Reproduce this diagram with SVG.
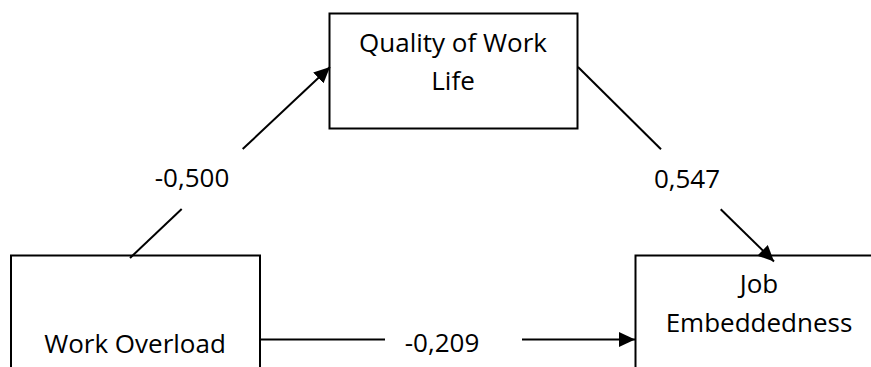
<svg xmlns="http://www.w3.org/2000/svg" width="871" height="367" viewBox="0 0 871 367">
<style>
.box{fill:#fff;stroke:#000;stroke-width:2}
.ln{fill:none;stroke:#000;stroke-width:2}
text{font-family:"Open Sans","Liberation Sans",sans-serif;font-size:26px;fill:#000;text-anchor:middle}
</style>
<defs>
<marker id="ah" viewBox="0 0 16 15" refX="16" refY="7.5" markerWidth="16" markerHeight="15" markerUnits="userSpaceOnUse" orient="auto">
<path d="M0,0 L16,7.5 L0,15 Z" fill="#000"/>
</marker>
</defs>
<rect width="871" height="367" fill="#fff"/>
<g id="node-quality">
<rect class="box" x="329.5" y="13.5" width="248" height="115"/>
<text x="453" y="52">Quality of Work</text>
<text x="453" y="90">Life</text>
</g>
<g id="node-overload">
<rect class="box" x="11" y="255.5" width="249" height="130"/>
<text x="135" y="353">Work Overload</text>
</g>
<g id="node-embed">
<rect class="box" x="635.5" y="255.5" width="260" height="130"/>
<text x="759" y="293">Job</text>
<text x="759" y="332">Embeddedness</text>
</g>
<g id="connectors">
<line class="ln" x1="130" y1="258" x2="181.7" y2="209"/>
<line class="ln" x1="242.7" y1="149" x2="330" y2="67" marker-end="url(#ah)"/>
<text x="192" y="187">-0,500</text>
<line class="ln" x1="578" y1="67" x2="661" y2="149.3"/>
<line class="ln" x1="720.7" y1="209.3" x2="774" y2="261.5" marker-end="url(#ah)"/>
<text x="687" y="188">0,547</text>
<line class="ln" x1="260" y1="339.5" x2="385" y2="339.5"/>
<line class="ln" x1="522" y1="339.5" x2="635" y2="339.5" marker-end="url(#ah)"/>
<text x="442" y="352">-0,209</text>
</g>
</svg>
